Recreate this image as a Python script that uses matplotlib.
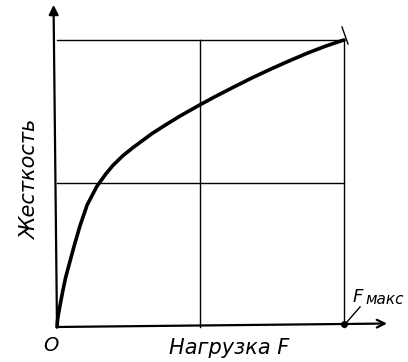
"""Stiffness vs load sketch (Жесткость / Нагрузка F)."""
import matplotlib.pyplot as plt

# curve, load and stiffness as fractions of max
load = [0, 0.002, 0.005, 0.010, 0.020, 0.030, 0.045, 0.060, 0.080, 0.105,
        0.139, 0.170, 0.195, 0.230, 0.265, 0.330, 0.380, 0.429, 0.491, 0.550,
        0.620, 0.680, 0.742, 0.800, 0.870, 0.935, 1.0]
stiffness = [0, 0.025, 0.045, 0.072, 0.125, 0.172, 0.228, 0.283, 0.352, 0.425,
             0.490, 0.533, 0.563, 0.597, 0.625, 0.673, 0.705, 0.735, 0.770, 0.802,
             0.838, 0.868, 0.897, 0.923, 0.953, 0.978, 1.0]

grid_x = [0.5, 1.0]
grid_y = [0.5, 1.0]

fig = plt.figure(figsize=(4.08, 3.62), dpi=100)
ax = fig.add_axes([0, 0, 1, 1])
ax.set_xlim(-0.1986, 1.223)
ax.set_ylim(-0.122, 1.139)
ax.axis('off')

# frame / grid lines
for gx in grid_x:
    ax.plot([gx, gx], [0, 1], color='black', lw=1.0)
for gy in grid_y:
    ax.plot([0, 1], [gy, gy], color='black', lw=1.0)

# axes with arrows
ax.annotate('', xy=(-0.012, 1.122), xytext=(0, 0),
            arrowprops=dict(arrowstyle='-|>', lw=1.6, color='black',
                            mutation_scale=14, shrinkA=0, shrinkB=0))
ax.annotate('', xy=(1.15, 0.012), xytext=(0, 0),
            arrowprops=dict(arrowstyle='->', lw=1.6, color='black',
                            mutation_scale=14, shrinkA=0, shrinkB=0))

# stiffness curve
ax.plot(load, stiffness, color='black', lw=2.6, solid_capstyle='round',
        solid_joinstyle='round')

# end mark near top-right corner
ax.plot([0.993, 1.014], [1.045, 0.986], color='black', lw=1.0)

# F max point with leader
ax.plot([1.0], [0.012], 'o', color='black', ms=4)
ax.plot([1.01, 1.056], [0.017, 0.07], color='black', lw=1.0)
ax.text(1.028, 0.105, 'F', fontsize=13, style='italic', va='center', ha='left')
ax.text(1.075, 0.095, 'макс', fontsize=11, style='italic', va='center', ha='left')

# labels
ax.text(-0.021, -0.066, 'O', fontsize=14, style='italic', ha='center', va='center')
ax.text(0.599, -0.073, 'Нагрузка F', fontsize=15, style='italic',
        ha='center', va='center')
ax.text(-0.094, 0.512, 'Жесткость', fontsize=15, style='italic',
        rotation=90, ha='center', va='center')

fig.savefig('out.png', dpi=100)
